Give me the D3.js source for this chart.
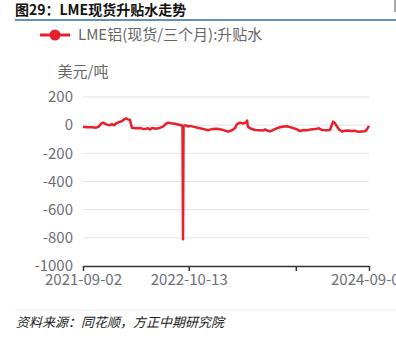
<!DOCTYPE html>
<html>
<head>
<meta charset="utf-8">
<script src="https://cdn.jsdelivr.net/npm/d3@7"></script>
<style>
  body { margin: 0; background: #fff; }
  text { font-family: "Noto Sans CJK SC", "Noto Sans", sans-serif; }
</style>
</head>
<body>
<svg id="chart" width="396" height="339"></svg>
<script>
const titleText = "图29：LME现货升贴水走势";
const seriesName = "LME铝(现货/三个月):升贴水";
const unitText = "美元/吨";
const sourceText = "资料来源：同花顺，方正中期研究院";

const dates = [
  "2021-09-02","2021-09-17","2021-10-07","2021-10-22","2021-11-02","2021-11-10","2021-11-18","2021-11-29",
  "2021-12-07","2021-12-15","2021-12-22","2021-12-30","2022-01-07","2022-01-18","2022-01-31","2022-02-07",
  "2022-02-15","2022-02-22","2022-03-01","2022-03-09","2022-03-24","2022-04-09","2022-04-24","2022-05-10",
  "2022-05-17","2022-05-25","2022-06-09","2022-06-25","2022-07-06","2022-07-18","2022-07-25","2022-08-06",
  "2022-08-21","2022-09-02","2022-09-13","2022-09-19","2022-09-21","2022-09-23","2022-10-02","2022-10-10",
  "2022-10-18","2022-11-02","2022-11-25","2022-12-14","2022-12-26","2023-01-10","2023-01-29","2023-02-18",
  "2023-03-13","2023-03-28","2023-04-09","2023-04-16","2023-04-28","2023-05-09","2023-05-21","2023-05-25",
  "2023-05-28","2023-06-05","2023-06-24","2023-07-10","2023-07-25","2023-08-02","2023-08-13","2023-08-21",
  "2023-09-01","2023-09-13","2023-09-28","2023-10-14","2023-10-25","2023-11-06","2023-11-17","2023-12-03",
  "2023-12-14","2023-12-26","2024-01-10","2024-01-25","2024-02-10","2024-02-25","2024-03-08","2024-03-23",
  "2024-04-07","2024-04-19","2024-04-26","2024-05-04","2024-05-12","2024-05-23","2024-06-04","2024-06-15",
  "2024-06-27","2024-07-12","2024-07-24","2024-08-08","2024-08-20","2024-08-27","2024-09-04"
];
const values = [
  -12,-15,-14,-18,-10,10,18,8,
  2,0,8,0,12,22,30,42,
  48,40,38,-18,-22,-20,-28,-22,
  -30,-20,-25,-18,-10,10,18,14,
  10,5,0,-5,-810,-5,0,-10,
  -5,-12,-22,-30,-36,-28,-26,-32,
  -46,-36,-20,8,18,12,20,32,
  -10,-22,-34,-36,-38,-30,-40,-44,
  -36,-25,-15,-10,-8,-14,-20,-30,
  -42,-34,-36,-30,-28,-22,-35,-36,
  -34,25,15,-10,-30,-45,-40,-38,
  -42,-40,-46,-45,-44,-30,-5
];

const yTicks = [200, 0, -200, -400, -600, -800, -1000];
const xTickDates = ["2021-09-02", "2022-10-13", "2023-11-28", "2024-09-04"];
const xTickLabels = ["2021-09-02", "2022-10-13", "", "2024-09-04"];

const parse = d3.timeParse("%Y-%m-%d");
const data = dates.map((d, i) => ({ date: parse(d), value: values[i] }));

const svg = d3.select("#chart");
const margins = { top: 97, right: 27, bottom: 73, left: 83 };
const chartWidth = svg.attr("width") - margins.left - margins.right;
const chartHeight = svg.attr("height") - margins.top - margins.bottom;

const xScale = d3.scaleTime()
  .domain([parse(xTickDates[0]), parse(xTickDates[3])])
  .range([0, chartWidth]);
const yScale = d3.scaleLinear().domain([-1000, 200]).range([chartHeight, 0]);

// title
svg.append("text")
  .attr("x", 15).attr("y", 15)
  .attr("font-size", 14).attr("font-weight", "bold").attr("fill", "#111")
  .text(titleText);
svg.append("line")
  .attr("x1", 15).attr("x2", 396).attr("y1", 20).attr("y2", 20)
  .attr("stroke", "#2f6da3").attr("stroke-width", 1.5);
svg.append("line")
  .attr("x1", 395).attr("x2", 395).attr("y1", 0).attr("y2", 12)
  .attr("stroke", "#555").attr("stroke-width", 1);

// legend
let legend = svg.append("g").attr("transform", "translate(40,35)");
legend.append("line").attr("x1", 0).attr("x2", 30)
  .attr("stroke", "#e8202a").attr("stroke-width", 3);
legend.append("circle").attr("cx", 15).attr("r", 5.5).attr("fill", "#e8202a");
legend.append("text").attr("x", 38).attr("dy", "0.36em")
  .attr("font-size", 15).attr("fill", "#666").text(seriesName);

// unit
svg.append("text").attr("x", 83).attr("y", 72).attr("dy", "0.36em")
  .attr("text-anchor", "middle").attr("font-size", 15).attr("fill", "#666")
  .text(unitText);

let chartArea = svg.append("g")
  .attr("transform", `translate(${margins.left},${margins.top})`);

// gridlines
chartArea.append("g")
  .selectAll("line")
  .data(yTicks.filter((t) => t !== -1000))
  .join("line")
  .attr("x1", 0).attr("x2", chartWidth)
  .attr("y1", (d) => yScale(d)).attr("y2", (d) => yScale(d))
  .attr("stroke", "#e0e3ec").attr("stroke-width", 1);

// y labels
let leftAxis = d3.axisLeft(yScale)
  .tickValues(yTicks)
  .tickFormat((d) => String(d))
  .tickSize(0).tickPadding(10);
chartArea.append("g").call(leftAxis)
  .call((g) => g.select(".domain").remove())
  .call((g) => g.selectAll("text")
    .attr("font-size", 15).attr("fill", "#6e6e78")
    .attr("font-family", "'Noto Sans CJK SC', sans-serif"));

// x axis
let bottomAxis = d3.axisBottom(xScale)
  .tickValues(xTickDates.map(parse))
  .tickFormat((d, i) => xTickLabels[i])
  .tickSizeInner(5).tickSizeOuter(0).tickPadding(3);
chartArea.append("g")
  .attr("transform", `translate(0,${chartHeight})`)
  .call(bottomAxis)
  .call((g) => g.select(".domain").attr("stroke", "#333").attr("stroke-width", 1.5))
  .call((g) => g.selectAll(".tick line").attr("stroke", "#333").attr("stroke-width", 1.5))
  .call((g) => g.selectAll("text")
    .attr("font-size", 15).attr("fill", "#6e6e78")
    .attr("font-family", "'Noto Sans CJK SC', sans-serif"));

// series
let line = d3.line()
  .x((d) => xScale(d.date))
  .y((d) => yScale(d.value));
chartArea.append("path")
  .datum(data)
  .attr("d", line)
  .attr("fill", "none")
  .attr("stroke", "#e8202a")
  .attr("stroke-width", 2.5)
  .attr("stroke-linejoin", "round");

// footer
svg.append("line")
  .attr("x1", 15).attr("x2", 396).attr("y1", 310).attr("y2", 310)
  .attr("stroke", "#eeeeee").attr("stroke-width", 1);
svg.append("text")
  .attr("x", 16).attr("y", 327)
  .attr("font-size", 13).attr("font-style", "italic").attr("fill", "#222")
  .text(sourceText);
</script>
</body>
</html>
